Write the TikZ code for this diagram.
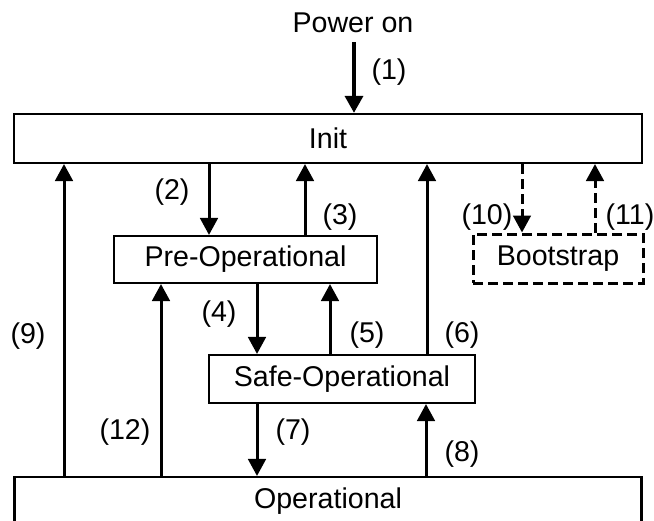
\documentclass[tikz,border=0pt]{standalone}
\usepackage{fontspec}
\setmainfont{Liberation Sans}
\usetikzlibrary{arrows.meta}
\begin{document}
\begin{tikzpicture}[x=0.5pt,y=-0.5pt,
  every node/.style={font=\fontsize{14.3}{16}\selectfont},
  state/.style={draw, line width=1.05pt, inner sep=0pt},
  bootbox/.style={draw, line width=1.5pt, dash pattern=on 5pt off 2.5pt, inner sep=0pt},
  arr/.style={-{Triangle[length=8.5pt,width=8.8pt]}, line width=1.5pt},
  arrthick/.style={-{Triangle[length=8.5pt,width=8.8pt]}, line width=2.4pt},
  dsh/.style={dash pattern=on 5pt off 2.5pt},
  lbl/.style={inner sep=0pt}]
\useasboundingbox (0,0) rectangle (654,520);
% states
\node[state, minimum width=314pt, minimum height=24.5pt] (init) at (328,138.5) {Init};
\node[state, minimum width=131.5pt, minimum height=23.5pt] (preop) at (245.5,259.5) {Pre-Operational};
\node[state, minimum width=133pt, minimum height=24pt] (safeop) at (342,379) {Safe-Operational};
\node[state, minimum width=313.5pt, minimum height=24.5pt] (op) at (328,501.5) {Operational};
\node[bootbox, minimum width=85pt, minimum height=24.5pt] (boot) at (558,258.5) {Bootstrap};
\node[lbl] (powon) at (353,23) {Power on};
% helper x positions
\coordinate (a1) at (354,0);
\coordinate (a2) at (209,0);
\coordinate (a3) at (305,0);
\coordinate (a4) at (257,0);
\coordinate (a5) at (330,0);
\coordinate (a6) at (427,0);
\coordinate (a8) at (426,0);
\coordinate (a9) at (64,0);
\coordinate (a12) at (161,0);
\coordinate (a10) at (522,0);
\coordinate (a11) at (595,0);
\coordinate (pstart) at (354,42);
% connectors
\draw[arrthick] (pstart) -- (init.north -| a1);
\draw[arr] (init.south -| a2) -- (preop.north -| a2);
\draw[arr] (preop.north -| a3) -- (init.south -| a3);
\draw[arr] (preop.south -| a4) -- (safeop.north -| a4);
\draw[arr] (safeop.north -| a5) -- (preop.south -| a5);
\draw[arr] (safeop.north -| a6) -- (init.south -| a6);
\draw[arr] (safeop.south -| a4) -- (op.north -| a4);
\draw[arr] (op.north -| a8) -- (safeop.south -| a8);
\draw[arr] (op.north -| a9) -- (init.south -| a9);
\draw[arr] (op.north -| a12) -- (preop.south -| a12);
\draw[arr,dsh] (init.south -| a10) -- (boot.north -| a10);
\draw[arr,dsh] (boot.north -| a11) -- (init.south -| a11);
% labels
\node[lbl] (l1) at (389,72) {(1)};
\node[lbl] (l2) at (172,192) {(2)};
\node[lbl] (l3) at (340,217) {(3)};
\node[lbl] (l4) at (219,314) {(4)};
\node[lbl] (l5) at (367,335) {(5)};
\node[lbl] (l6) at (462,335) {(6)};
\node[lbl] (l7) at (293,432) {(7)};
\node[lbl] (l8) at (462,454) {(8)};
\node[lbl] (l9) at (28,336) {(9)};
\node[lbl] (l10) at (487,217) {(10)};
\node[lbl] (l11) at (630,217) {(11)};
\node[lbl] (l12) at (125,432) {(12)};
\end{tikzpicture}
\end{document}
